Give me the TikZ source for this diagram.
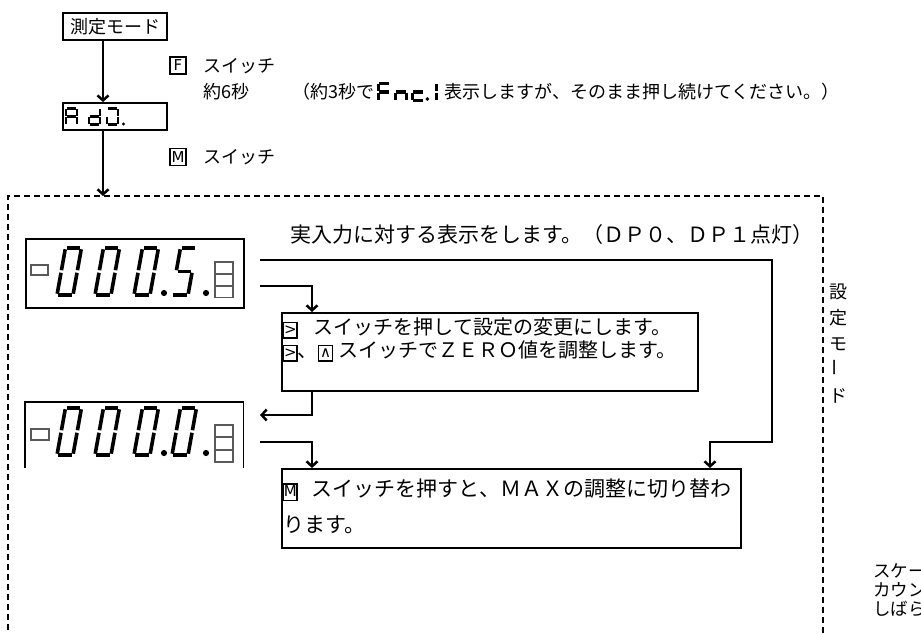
\documentclass[tikz,border=0pt]{standalone}
\usepackage{fontspec}
\newfontfamily\jp{Noto Sans CJK JP}
\newfontfamily\keyf{DejaVu Sans}
\usetikzlibrary{calc,arrows.meta}
\newcommand\kb[1]{{\setlength\fboxrule{1.5pt}\setlength\fboxsep{0.6pt}\fbox{\keyf\fontsize{15}{15}\selectfont\rule[-2.5pt]{0pt}{13pt}\makebox[11pt]{#1}}}}
\def\dzero{TL/TR,TR/MR,MR/BR,BL/BR,BL/ML,ML/TL}
\def\dfive{TL/TR,ML/TL,ML/MR,MR/BR,BL/BR}
\def\dA{TL/TR,TR/MR,MR/BR,BL/ML,ML/TL,ML/MR}
\def\dd{TR/MR,MR/BR,BL/BR,BL/ML,ML/MR}
\def\dJ{TL/TR,TR/MR,MR/BR,BL/BR,BL/ML}
\def\dF{TL/TR,ML/TL,BL/ML,ML/MR}
\def\dn{ML/MR,MR/BR,BL/ML}
\def\dc{ML/MR,BL/ML,BL/BR}
\def\done{TR/MR,MR/BR}
\newcommand\sevseg[6]{%
  \begin{scope}[shift={#1}, xslant=#4]
    \coordinate (TL) at (0,-#3); \coordinate (TR) at (#2,-#3);
    \coordinate (ML) at (0,-#3/2); \coordinate (MR) at (#2,-#3/2);
    \coordinate (BL) at (0,0); \coordinate (BR) at (#2,0);
  \end{scope}
  \foreach \p/\q in #6 {\draw[#5] (\p) -- (\q);}}
\begin{document}
\begin{tikzpicture}[x=1pt,y=-1pt,
  arr/.style={line width=2.5, -{Straight Barb[length=5,width=11]}},
  boxn/.style={draw, line width=1.8, inner sep=0},
  keyn/.style={draw, line width=1.5, inner sep=0, minimum width=16, minimum height=17, font=\keyf\fontsize{15}{15}\selectfont},
  jt/.style={font=\jp\fontsize{21}{24}\selectfont, inner sep=0, anchor=west},
  jm/.style={font=\jp\fontsize{20}{24}\selectfont, inner sep=0, anchor=west},
  js/.style={font=\jp\fontsize{18}{22}\selectfont, inner sep=0, anchor=west},
  frameline/.style={line width=1.8, dash pattern=on 6 off 4},
  segbig/.style={line width=3.6, shorten <=1.3, shorten >=1.3},
  segsmall/.style={line width=2.1, shorten <=0.9, shorten >=0.9},
  segbold/.style={line width=3.3, shorten <=0.8, shorten >=0.8},
  lamp/.style={draw=black!65, line width=1.3},
]
\useasboundingbox (0,0) rectangle (921,634);
% dashed frame
\draw[frameline] (8,640) -- (8,196) -- (823,196) -- (823,640);
% top part
\node[boxn, minimum width=104, minimum height=27, font=\jp\fontsize{18}{18}\selectfont] (meas) at (115,26.5) {測定モード};
\node[boxn, minimum width=104, minimum height=27] (adj) at (115,116.5) {};
\sevseg{(66,124.5)}{11}{16}{0}{segsmall}{\dA}
\sevseg{(89,124.5)}{11}{16}{0}{segsmall}{\dd}
\sevseg{(107,124.5)}{11}{16}{0}{segsmall}{\dJ}
\fill (123.5,124) circle (1.6);
\coordinate (ax) at (103,0);
\draw[arr] (ax |- meas.south) -- (ax |- adj.north);
\coordinate (dtop) at (103,196);
\draw[arr] (ax |- adj.south) -- (dtop);
\node[keyn] (kF) at (178,65.5) {F};
\node[js] (tF) at (203,66) {スイッチ};
\node[js] (t6) at (203,92) {約6秒};
\node[keyn] (kM) at (178,157) {M};
\node[js] (tM) at (203,157) {スイッチ};
\node[js] (t3a) at (292,92) {（約3秒で};
\sevseg{($(t3a.east)+(4,8.5)$)}{11}{17}{0}{segbold}{\dF}
\sevseg{($(t3a.east)+(21,8.5)$)}{11}{17}{0}{segbold}{\dn}
\sevseg{($(t3a.east)+(38,8.5)$)}{11}{17}{0}{segbold}{\dc}
\fill ($(t3a.east)+(53,7)$) circle (1.9);
\sevseg{($(t3a.east)+(51,8.5)$)}{11}{17}{0}{segbold}{\done}
\node[js] (t3b) at ($(t3a.east)+(70,0)$) {表示しますが、そのまま押し続けてください。）};
% display 1
\node[boxn, minimum width=218, minimum height=69, anchor=north west] (d1) at (25,238) {};
\draw[lamp] (31,265) rectangle (48,275);
\draw[lamp] (215,262) rectangle (233,273.5);
\draw[lamp] (215,274) rectangle (233,285.5);
\draw[lamp] (215,286) rectangle (233,297.5);
\sevseg{(57,295)}{16}{47}{0.18}{segbig}{\dzero}
\sevseg{(95,295)}{16}{47}{0.18}{segbig}{\dzero}
\sevseg{(134,295)}{16}{47}{0.18}{segbig}{\dzero}
\sevseg{(172,295)}{16}{47}{0.18}{segbig}{\dfive}
\fill (164,293) circle (3.1);
\fill (206,293) circle (3.1);
% display 2
\node[minimum width=218, minimum height=66, anchor=north west, inner sep=0] (d2) at (25,402) {};
\draw[line width=1.8] (d2.south west) -- (d2.north west) -- (d2.north east) -- (d2.south east);
\draw[lamp] (31,429) rectangle (49,440);
\draw[lamp] (215,425) rectangle (233,437);
\draw[lamp] (215,437.5) rectangle (233,449.5);
\draw[lamp] (215,450) rectangle (233,462);
\sevseg{(57,455)}{16}{47}{0.18}{segbig}{\dzero}
\sevseg{(95,455)}{16}{47}{0.18}{segbig}{\dzero}
\sevseg{(134,455)}{16}{47}{0.18}{segbig}{\dzero}
\sevseg{(172,455)}{16}{47}{0.18}{segbig}{\dzero}
\fill (164,453) circle (3.1);
\fill (206,453) circle (3.1);
% text
\node[jt] (tdp) at (290,235) {実入力に対する表示をします。（ＤＰ０、ＤＰ１点灯）};
% boxes
\node[boxn, anchor=north west, minimum width=416, minimum height=78] (b1) at (281,312) {};
\node[jm] (b1l1) at (282.5,328) {\kb{>}\hspace{16pt}スイッチを押して設定の変更にします。};
\node[jm] (b1l2) at (282.5,351) {\kb{>}、\kb{∧}\hspace{5pt}スイッチでＺＥＲＯ値を調整します。};
\node[boxn, anchor=north west, minimum width=459, minimum height=79] (b2) at (281,468) {};
\node[jt] (b2l1) at (282.5,490) {\kb{M}\hspace{14pt}スイッチを押すと、ＭＡＸの調整に切り替わ};
\node[jt] (b2l2) at (283,525) {ります。};
% connectors
\coordinate (c1a) at (260,260); \coordinate (r1) at (772,260);
\coordinate (r2) at (772,442); \coordinate (r3) at (710,442);
\draw[arr] (c1a) -- (r1) -- (r2) -- (r3) -- (r3 |- b2.north);
\coordinate (c1b) at (260,286); \coordinate (k1) at (312,286);
\draw[arr] (c1b) -- (k1) -- (k1 |- b1.north);
\coordinate (k2) at (312,415); \coordinate (c2a) at (260,415);
\draw[arr] (k2 |- b1.south) -- (k2) -- (c2a);
\coordinate (c2b) at (260,442); \coordinate (k3) at (312,442);
\draw[arr] (c2b) -- (k3) -- (k3 |- b2.north);
% vertical label
\node[font=\jp\fontsize{18}{26}\selectfont, align=center, inner sep=0, anchor=north] (vlab) at (838,284) {設\\定\\モ\\\rotatebox{90}{ー}\\ド};
% bottom right
\node[font=\jp\fontsize{17.5}{19}\selectfont, align=left, inner sep=0, anchor=north west] (brt) at (873,563) {スケー\\カウン\\しばら};
\end{tikzpicture}
\end{document}
